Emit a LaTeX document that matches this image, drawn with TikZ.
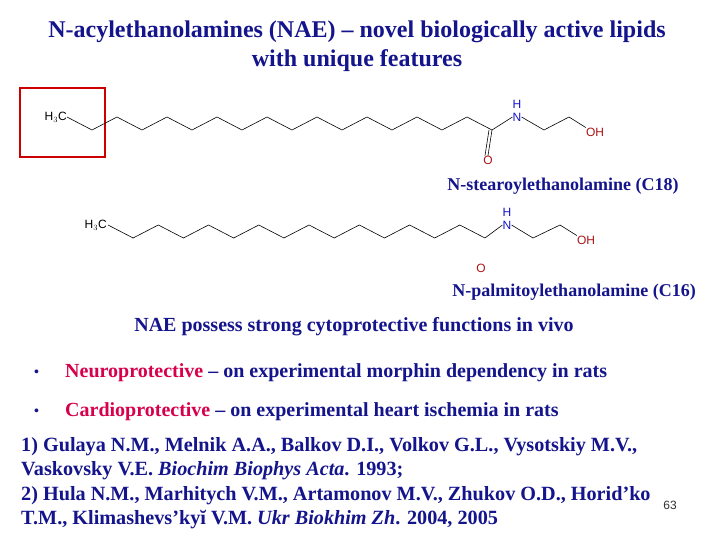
\documentclass[tikz,border=0pt]{standalone}
\usepackage{fontspec}
\setmainfont{Liberation Serif}
\newfontfamily\atomf{Liberation Sans}
\definecolor{navy}{RGB}{20,20,140}
\definecolor{pinkred}{RGB}{215,0,75}
\definecolor{atomred}{RGB}{170,20,20}
\definecolor{atomblue}{RGB}{20,20,200}
\newcommand{\apos}{\symbol{"27}}
\begin{document}
\begin{tikzpicture}[x=1pt,y=-1pt,
  ttl/.style={font=\bfseries\fontsize{24}{26}\selectfont,text=navy,inner sep=0},
  body/.style={font=\bfseries\fontsize{20}{22}\selectfont,text=navy,inner sep=0,anchor=west},
  refs/.style={font=\bfseries\fontsize{20.2}{22}\selectfont,text=navy,inner sep=0,anchor=west},
  lbl/.style={font=\bfseries\fontsize{18}{20}\selectfont,text=navy,inner sep=0},
  atom/.style={font=\atomf\fontsize{12}{13}\selectfont,inner sep=0},
  bond/.style={black,line width=0.6pt}]
\useasboundingbox (0,0) rectangle (720,540);
\fill[white] (0,0) rectangle (720,540);
\node[ttl] (t1) at (357,32) {N-acylethanolamines (NAE) -- novel biologically active lipids};
\node[ttl] (t2) at (357,61) {with unique features};
% structure 1
\draw[red!80!black,line width=1.4pt] (20,88) rectangle (105,157);
\node[atom,anchor=east] (h3c1) at (67,117) {H$_3$C};
\draw[bond] (67,117) \foreach \i in {1,...,17}{ -- ({67+25*\i},{117+13*mod(\i,2)}) } coordinate (c1);
\node[atom,text=atomblue] (n1) at (517,117) {N};
\node[atom,text=atomblue] (hn1) at (517,104) {H};
\node[atom,text=atomred] (oh1) at (595,132) {OH};
\node[atom,text=atomred] (o1) at (488,160) {O};
\draw[bond] (c1) -- (n1.west);
\draw[bond] (n1.east) -- (544,130) -- (569,117) -- (oh1.north west);
\draw[bond] (c1) -- (o1.north);
\draw[bond] ([xshift=-3]c1) -- ([xshift=-3]o1.north);
\node[lbl] (s1) at (563,186) {N-stearoylethanolamine (C18)};
% structure 2
\node[atom,anchor=east] (h3c2) at (107,225) {H$_3$C};
\draw[bond] (108,225) \foreach \i in {1,...,15}{ -- ({108+25.13*\i},{225+13*mod(\i,2)}) } coordinate (c2);
\node[atom,text=atomblue] (n2) at (507,225) {N};
\node[atom,text=atomblue] (hn2) at (507,212) {H};
\node[atom,text=atomred] (oh2) at (586,240) {OH};
\node[atom,text=atomred] (o2) at (481,268) {O};
\draw[bond] (c2) -- (n2.west);
\draw[bond] (n2.east) -- (533,238) -- (560,225) -- (oh2.north west);
\node[lbl] (s2) at (574,292) {N-palmitoylethanolamine (C16)};
% text
\node[body,anchor=center] (nae) at (354,327) {NAE possess strong cytoprotective functions in vivo};
\node[body,font=\bfseries\fontsize{14}{16}\selectfont] (b1) at (34,373) {\textbullet};
\node[body] (l1) at (65,373) {\textcolor{pinkred}{Neuroprotective} -- on experimental morphin dependency in rats};
\node[body,font=\bfseries\fontsize{14}{16}\selectfont] (b2) at (34,412) {\textbullet};
\node[body] (l2) at (65,412) {\textcolor{pinkred}{Cardioprotective} -- on experimental heart ischemia in rats};
\node[refs] (r1) at (21,447) {1) Gulaya N.M., Melnik A.A., Balkov D.I., Volkov G.L., Vysotskiy M.V.,};
\node[refs] (r2) at (21,471) {Vaskovsky V.E. \textit{Biochim Biophys Acta}. 1993;};
\node[refs] (r3) at (21,496) {2) Hula N.M., Marhitych V.M., Artamonov M.V., Zhukov O.D., Horid\apos ko};
\node[refs] (r4) at (21,520) {T.M., Klimashevs\apos kyĭ V.M. \textit{Ukr Biokhim Zh}. 2004, 2005};
\node[font=\atomf\fontsize{12}{13}\selectfont,text=black!80,inner sep=0] (pg) at (670,505) {63};
\end{tikzpicture}
\end{document}
